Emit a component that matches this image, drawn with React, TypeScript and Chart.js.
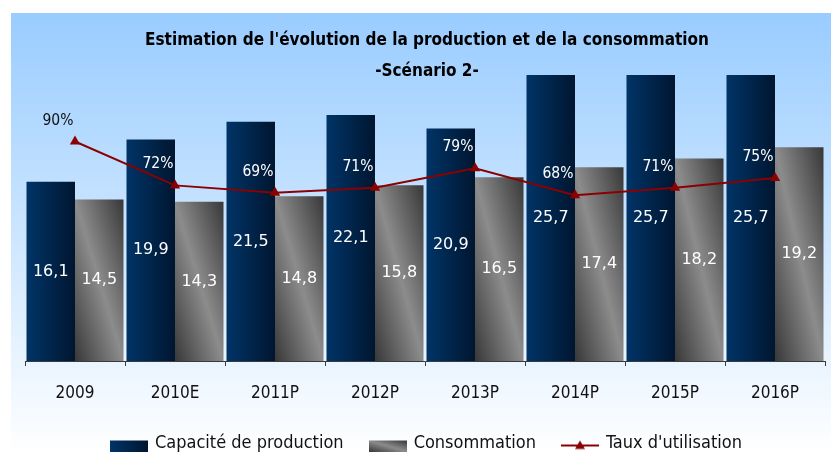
import React, { useEffect, useRef } from 'react';
import { Chart, registerables } from 'chart.js';

Chart.register(...registerables);

const categories = ['2009', '2010E', '2011P', '2012P', '2013P', '2014P', '2015P', '2016P'];
const production = [16.1, 19.9, 21.5, 22.1, 20.9, 25.7, 25.7, 25.7];
const consommation = [14.5, 14.3, 14.8, 15.8, 16.5, 17.4, 18.2, 19.2];
const tauxUtilisation = [90, 72, 69, 71, 79, 68, 71, 75];
const seriesNames = ['Capacité de production', 'Consommation', "Taux d'utilisation"];
const titleLines = ["Estimation de l'évolution de la production et de la consommation", '-Scénario 2-'];
const pctLabelColors = ['#111111', '#ffffff', '#ffffff', '#ffffff', '#ffffff', '#ffffff', '#ffffff', '#ffffff'];

const COND = '"DejaVu Sans Condensed", "DejaVu Sans", sans-serif';
const SANS = '"DejaVu Sans", sans-serif';
const W = 831;
const H = 470;
const CAT_PCT = 0.97;
const LINE_COLOR = '#8b0000';

function prodGradient(ctx: CanvasRenderingContext2D, left: number, right: number) {
  const g = ctx.createLinearGradient(left, 0, right, 0);
  g.addColorStop(0, '#013467');
  g.addColorStop(1, '#001630');
  return g;
}

function consGradient(ctx: CanvasRenderingContext2D, left: number, top: number, right: number, bottom: number) {
  const w = right - left;
  const h = bottom - top;
  const k = (2 * w * h) / (w * w + h * h || 1);
  const g = ctx.createLinearGradient(left, bottom, left + k * h, bottom - k * w);
  g.addColorStop(0, '#383838');
  g.addColorStop(0.5, '#8c8c8c');
  g.addColorStop(1, '#383838');
  return g;
}

function barGeom(c: any, which: number) {
  const chart = c.chart;
  const xs = chart.scales.x;
  const ys = chart.scales.y;
  if (!xs || !ys || !chart.chartArea) return null;
  const cx = xs.getPixelForValue(c.dataIndex);
  const step = Math.abs(xs.getPixelForValue(1) - xs.getPixelForValue(0));
  const w = (step * CAT_PCT) / 2;
  const left = which === 0 ? cx - w : cx;
  const right = which === 0 ? cx : cx + w;
  const v = c.raw as number;
  const top = ys.getPixelForValue(v);
  const bottom = ys.getPixelForValue(0);
  return { left, right, top, bottom };
}

function makeIcon(kind: number): HTMLCanvasElement {
  const cv = document.createElement('canvas');
  cv.width = 38;
  cv.height = 17;
  const ctx = cv.getContext('2d')!;
  if (kind === 0) {
    ctx.fillStyle = prodGradient(ctx, 0, 38);
    ctx.fillRect(0, 6, 38, 11);
  } else if (kind === 1) {
    ctx.fillStyle = consGradient(ctx, 0, 6, 38, 17);
    ctx.fillRect(0, 6, 38, 11);
  } else {
    ctx.strokeStyle = LINE_COLOR;
    ctx.lineWidth = 2;
    ctx.beginPath();
    ctx.moveTo(0, 11);
    ctx.lineTo(38, 11);
    ctx.stroke();
    ctx.fillStyle = LINE_COLOR;
    ctx.beginPath();
    ctx.moveTo(19, 6);
    ctx.lineTo(24, 14.5);
    ctx.lineTo(14, 14.5);
    ctx.closePath();
    ctx.fill();
  }
  return cv;
}

const backgroundPlugin = {
  id: 'bgPanel',
  beforeDraw(chart: any) {
    const ctx = chart.ctx;
    ctx.save();
    const g = ctx.createLinearGradient(0, 13, 0, 454);
    g.addColorStop(0, '#99ccff');
    g.addColorStop(1, '#ffffff');
    ctx.fillStyle = g;
    ctx.fillRect(11, 13, W - 11, H - 13);
    ctx.restore();
  },
};

const labelsPlugin = {
  id: 'valueLabels',
  afterDatasetsDraw(chart: any) {
    const ctx = chart.ctx;
    ctx.save();
    ctx.textAlign = 'center';
    ctx.textBaseline = 'middle';
    [0, 1].forEach((di) => {
      const meta = chart.getDatasetMeta(di);
      const data = chart.data.datasets[di].data as number[];
      ctx.font = `16px ${SANS}`;
      ctx.fillStyle = '#ffffff';
      meta.data.forEach((el: any, i: number) => {
        const txt = data[i].toFixed(1).replace('.', ',');
        ctx.fillText(txt, el.x, (el.y + el.base) / 2);
      });
    });
    const lmeta = chart.getDatasetMeta(2);
    const ldata = chart.data.datasets[2].data as number[];
    ctx.font = `15.5px ${COND}`;
    lmeta.data.forEach((el: any, i: number) => {
      ctx.fillStyle = pctLabelColors[i];
      ctx.fillText(`${ldata[i]}%`, el.x - 17, el.y - 21);
    });
    ctx.restore();
  },
};

export default function App() {
  const ref = useRef<HTMLCanvasElement>(null);

  useEffect(() => {
    if (!ref.current) return;
    const icons = [makeIcon(0), makeIcon(1), makeIcon(2)];
    const chart = new Chart(ref.current, {
      type: 'bar',
      data: {
        labels: categories,
        datasets: [
          {
            type: 'bar',
            label: seriesNames[0],
            data: production,
            yAxisID: 'y',
            order: 2,
            categoryPercentage: CAT_PCT,
            barPercentage: 1,
            borderWidth: 0,
            backgroundColor: (c: any) => {
              const g = barGeom(c, 0);
              if (!g) return '#012a55';
              return prodGradient(c.chart.ctx, g.left, g.right);
            },
          },
          {
            type: 'bar',
            label: seriesNames[1],
            data: consommation,
            yAxisID: 'y',
            order: 2,
            categoryPercentage: CAT_PCT,
            barPercentage: 1,
            borderWidth: 0,
            backgroundColor: (c: any) => {
              const g = barGeom(c, 1);
              if (!g) return '#666666';
              return consGradient(c.chart.ctx, g.left, g.top, g.right, g.bottom);
            },
          },
          {
            type: 'line',
            label: seriesNames[2],
            data: tauxUtilisation,
            yAxisID: 'y1',
            order: 0,
            borderColor: LINE_COLOR,
            backgroundColor: LINE_COLOR,
            borderWidth: 2,
            pointStyle: 'triangle',
            pointRadius: 6,
            pointBackgroundColor: LINE_COLOR,
            pointBorderColor: LINE_COLOR,
            pointBorderWidth: 0,
            tension: 0,
          } as any,
        ],
      },
      options: {
        responsive: false,
        animation: false,
        devicePixelRatio: 1,
        layout: { padding: { left: 25, right: 2, top: 0, bottom: 8 } },
        scales: {
          x: {
            grid: {
              display: true,
              drawOnChartArea: false,
              drawTicks: true,
              tickLength: 5,
              color: '#3a3a3a',
              offset: true,
            },
            border: { display: true, color: '#3a3a3a', width: 1 },
            ticks: {
              color: '#111111',
              font: { family: COND, size: 17 },
              padding: 17.5,
            },
            afterFit: (s: any) => {
              s.height = 46;
            },
          },
          y: { display: false, min: 0, max: 27.0 },
          y1: { display: false, min: 0, max: 123.2, position: 'right' },
        },
        plugins: {
          title: {
            display: true,
            text: titleLines,
            color: '#000000',
            font: { family: COND, size: 17, weight: 'bold', lineHeight: '31px' },
            padding: { top: 25.5, bottom: -27 },
          },
          legend: {
            display: true,
            position: 'bottom',
            labels: {
              usePointStyle: true,
              pointStyleWidth: 34,
              color: '#111111',
              font: { family: COND, size: 18 },
              padding: 27,
              generateLabels: (ch: any) => {
                const items = Chart.defaults.plugins.legend.labels.generateLabels(ch);
                return items
                  .slice()
                  .sort((a: any, b: any) => a.datasetIndex - b.datasetIndex)
                  .map((it: any) => ({ ...it, pointStyle: icons[it.datasetIndex] }));
              },
            },
          },
          tooltip: { enabled: false },
        },
      } as any,
      plugins: [backgroundPlugin, labelsPlugin],
    });
    return () => chart.destroy();
  }, []);

  return (
    <div style={{ position: 'fixed', left: 0, top: 0, width: W, height: 454, overflow: 'hidden' }}>
      <canvas ref={ref} width={W} height={H} style={{ display: 'block', width: W, height: H }} />
    </div>
  );
}
